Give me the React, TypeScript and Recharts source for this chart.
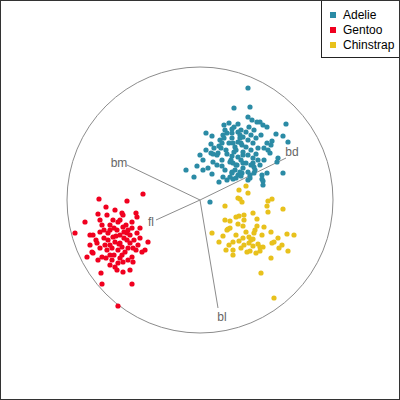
import { ScatterChart, Scatter, XAxis, YAxis, ReferenceDot, ReferenceLine } from 'recharts';

// projected coordinates, circle radius = 133
const adelie = [
  [48,112],[34,92],[50,93],[6,67],[12,64],[-6,23],[-3,34],[3,30],[86,76],[88,58],[83,64],[83,27],
  [76,66],[67,27],[62,21],[63,15],[63,19],[19,18],[27,20],[33,21],[-14,30],[0,45],[10,-2],
  [25,70],[32,71],[27,67],[23,65],[32,67],[38,68],[40,65],[20,60],[22,57],[19,54],[29,57],[33,57],
  [35,53],[38,58],[42,55],[11,47],[13,46],[17,45],[27,46],[32,44],[38,43],[43,45],[13,38],[17,35],
  [22,34],[30,38],[33,37],[37,35],[43,37],[25,30],[32,28],[35,30],[38,25],[42,27],[30,23],[23,23],
  [48,83],[52,80],[57,78],[60,78],[63,75],[67,73],[72,59],[67,57],[70,47],[78,42],[77,38],[62,25],
  [53,37],[55,30],[50,25],[48,20],
  [41,70],[46,68],[51,65],[56,62],[43,63],[48,60],[53,57],[58,52],[41,57],[46,53],[51,50],[56,46],
  [43,48],[48,45],[53,42],[58,40],[41,40],[46,37],[51,35],[54,33],[43,32],[48,28],[40,28],[36,50],
  [34,48],[31,40],[36,35],[26,50],[21,52],[24,62],[32,62],[40,62],[61,65],[64,52],[60,35],[54,27],
  [50,22],[36,22],[41,24],[32,27],[22,40],[18,47],[14,52],[11,56],[6,50],[3,40],[8,32],[12,26],
  [64,40],[68,50],[71,55],[54,70],[49,73],[38,76],[34,73],[29,77],[24,75],
];

const gentoo = [
  [-101,1],[-57,6],[-94,-7],[-73,-1],[-102,-14],[-115,-22],[-125,-33],[-52,-42],[-113,-57],[-99,-73],
  [-98,-84],[-68,-84],[-82,-106],[-77,-72],[-58,-52],[-64,-13],[-78,-13],
  [-110,-35],[-107,-35],[-100,-32],[-98,-25],[-90,-25],[-87,-20],[-82,-22],[-77,-15],[-80,-20],
  [-68,-22],[-63,-17],[-60,-28],[-63,-33],[-55,-50],[-67,-48],[-68,-57],[-67,-62],[-77,-62],[-82,-63],
  [-85,-67],[-83,-70],[-90,-55],[-93,-50],[-95,-45],[-103,-43],[-108,-52],[-107,-53],[-102,-60],
  [-98,-57],[-73,-40],[-70,-43],[-80,-43],[-87,-37],[-90,-45],[-73,-33],[-83,-30],[-92,-33],[-77,-27],
  [-72,-30],[-85,-42],[-80,-35],[-76,-38],[-88,-48],[-82,-50],[-78,-47],[-75,-52],[-70,-35],[-66,-40],
  [-62,-45],[-86,-28],[-92,-40],[-96,-38],[-100,-48],[-94,-58],[-88,-60],[-78,-55],[-72,-48],[-74,-25],
  [-84,-36],[-90,-30],[-81,-44],[-76,-32],[-68,-28],[-64,-50],[-86,-55],[-80,-58],[-72,-60],[-96,-30],
  [-104,-40],[-110,-45],[-60,-38],[-70,-70],[-90,-65],[-100,-20],[-93,-15],[-85,-10],
];

const chinstrap = [
  [46,14],[39,10],[48,7],[38,2],[42,-2],[40,1],[25,-6],[68,-1],[72,1],[68,-12],[83,-9],[12,-33],
  [23,-36],[25,-20],[27,-30],[30,-21],[36,-17],[39,-16],[44,-15],[44,-20],[53,-13],[57,-19],[57,-26],
  [38,-24],[43,-26],[28,-29],[64,-27],[55,-30],[54,-33],[71,-32],[87,-34],[94,-35],[78,-38],[74,-42],
  [72,-43],[33,-42],[39,-41],[43,-38],[49,-37],[51,-40],[49,-43],[53,-39],[44,-45],[53,-46],[60,-47],
  [63,-47],[79,-48],[88,-51],[26,-50],[33,-50],[33,-55],[47,-52],[50,-51],[60,-51],[71,-58],[61,-73],
  [74,-98],[67,-6],[30,-28],[46,-32],[36,-35],[58,-44],[41,-48],[56,-53],[29,-45],[62,-35],[82,-45],
  [19,-42],
];

const axisNames = ['bm', 'fl', 'bd', 'bl'];
const axisEnds = [[-73,35],[-44,-20],[86,42],[18,-108]];
const labelPos = [[-81,37],[-49,-22],[92,48],[22,-117]];

const species = [
  { name: 'Adelie', points: adelie, color: '#2b8ba5' },
  { name: 'Gentoo', points: gentoo, color: '#f0001f' },
  { name: 'Chinstrap', points: chinstrap, color: '#e8c11c' },
];

const toRows = (pts: number[][]) => pts.map(([x, y]) => ({ x, y }));
const labelRows = axisNames.map((name, i) => ({ x: labelPos[i][0], y: labelPos[i][1], name }));

const dot = (color: string) => (props: any) =>
  <circle cx={props.cx} cy={props.cy} r={2.6} fill={color} />;

const axisLabel = (props: any) => (
  <text x={props.cx} y={props.cy} textAnchor="middle" dominantBaseline="central"
    fontSize={12} fill="#666" fontFamily="Liberation Sans, Arial, sans-serif">
    {props.payload.name}
  </text>
);

export default function App() {
  return (
    <div style={{ position: 'fixed', left: 0, top: 0, width: 400, height: 400, background: '#fff' }}>
      <ScatterChart width={400} height={400} margin={{ top: 0, right: 0, bottom: 0, left: 0 }}>
        <XAxis type="number" dataKey="x" domain={[-200, 200]} hide />
        <YAxis type="number" dataKey="y" domain={[-200, 200]} hide />
        <ReferenceDot x={0} y={0} r={133} fill="none" stroke="#8c8c8c" strokeWidth={1} />
        {axisEnds.map((e, i) => (
          <ReferenceLine key={axisNames[i]} segment={[{ x: 0, y: 0 }, { x: e[0], y: e[1] }]}
            stroke="#8c8c8c" strokeWidth={1} />
        ))}
        {species.map(s => (
          <Scatter key={s.name} name={s.name} data={toRows(s.points)} shape={dot(s.color)}
            isAnimationActive={false} />
        ))}
        <Scatter data={labelRows} shape={axisLabel} isAnimationActive={false} />
      </ScatterChart>
      <div style={{
        position: 'absolute', left: 321, top: -1, width: 78, height: 57, border: '1px solid #222',
        fontFamily: 'Liberation Sans, Arial, sans-serif', fontSize: 12, color: '#000',
      }}>
        {species.map((s, i) => (
          <div key={s.name} style={{ position: 'absolute', left: 8, top: 8 + i * 15, height: 14, display: 'flex', alignItems: 'center' }}>
            <span style={{ width: 6, height: 6, background: s.color, display: 'inline-block', marginRight: 7 }} />
            <span>{s.name}</span>
          </div>
        ))}
      </div>
      <div style={{ position: 'absolute', left: 0, top: 0, width: 400, height: 400, boxSizing: 'border-box', border: '1px solid #333', pointerEvents: 'none' }} />
    </div>
  );
}
